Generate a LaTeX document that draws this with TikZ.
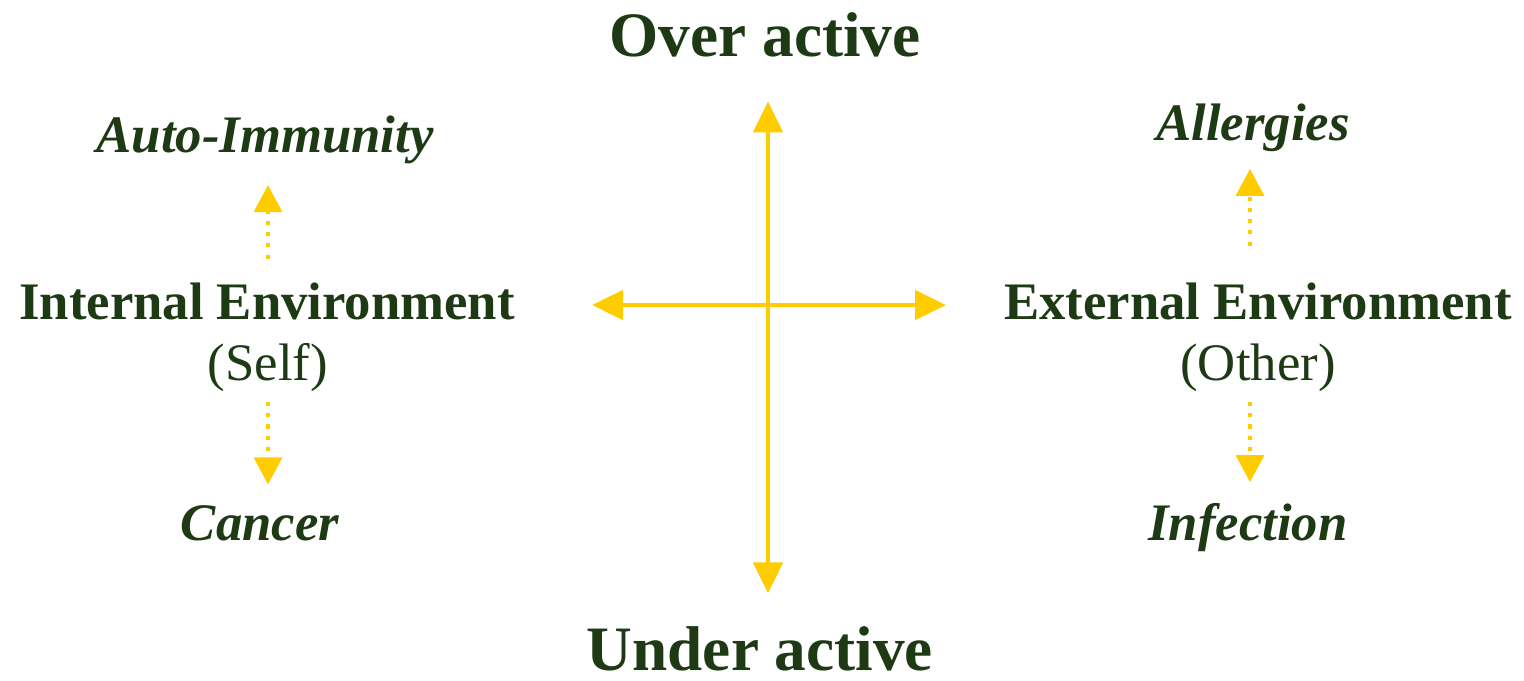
\documentclass[tikz,border=0pt]{standalone}
\usepackage{fontspec}
\setmainfont{Liberation Serif}
\usetikzlibrary{arrows.meta, positioning}
\definecolor{axisyellow}{HTML}{FFCC00}
\definecolor{txtgreen}{HTML}{1E3A14}

\begin{document}
\begin{tikzpicture}[x=1cm, y=1cm,
    title/.style={font=\bfseries\fontsize{18}{20}\selectfont, text=txtgreen, anchor=base, inner sep=0pt},
    env/.style={font=\bfseries\fontsize{15}{17}\selectfont, text=txtgreen, anchor=base, inner sep=0pt},
    sub/.style={font=\fontsize{15}{17}\selectfont, text=txtgreen, anchor=base, inner sep=0pt},
    cond/.style={font=\bfseries\itshape\fontsize{15}{17}\selectfont, text=txtgreen, anchor=base, inner sep=0pt},
    axis/.style={axisyellow, line width=1.4pt, {Triangle[width=0.29cm, length=0.31cm]}-{Triangle[width=0.29cm, length=0.31cm]}},
    dotarrow/.style={axisyellow, line width=1pt, dash pattern=on 1.2pt off 2pt, -{Triangle[width=0.28cm, length=0.27cm]}}]
    \useasboundingbox (0,0) rectangle (15.24,-6.80);
    % axis labels
    \node[title] (over) at (7.65,-0.56) {Over active};
    \node[title] (under) at (7.60,-6.70) {Under active};
    % left side
    \node[env] (int) at (2.67,-3.19) {Internal Environment};
    \node[sub] (self) at (2.68,-3.80) {(Self)};
    \node[cond] (auto) at (2.65,-1.52) {Auto-Immunity};
    \node[cond] (cancer) at (2.60,-5.40) {Cancer};
    % right side
    \node[env] (ext) at (12.58,-3.19) {External Environment};
    \node[sub] (other) at (12.58,-3.80) {(Other)};
    \node[cond] (allerg) at (12.53,-1.40) {Allergies};
    \node[cond] (infect) at (12.48,-5.40) {Infection};
    % axes
    \coordinate (lft) at (5.92,-3.05);
    \coordinate (rgt) at (9.46,-3.05);
    \draw[axis, shorten <=0.32cm, shorten >=0.44cm] (under.north -| 7.68,0) -- (over.south -| 7.68,0);
    \draw[axis] (lft) -- (rgt);
    % dotted arrows
    \draw[dotarrow, shorten <=0.23cm, shorten >=0.21cm] (int.north -| 2.68,0) -- (auto.south -| 2.68,0);
    \draw[dotarrow, shorten <=0.10cm, shorten >=0.20cm] (self.south -| 2.68,0) -- (cancer.north -| 2.68,0);
    \draw[dotarrow, shorten <=0.36cm, shorten >=0.17cm] (ext.north -| 12.50,0) -- (allerg.south -| 12.50,0);
    \draw[dotarrow, shorten <=0.10cm, shorten >=0.20cm] (other.south -| 12.50,0) -- (infect.north -| 12.50,0);
\end{tikzpicture}
\end{document}
